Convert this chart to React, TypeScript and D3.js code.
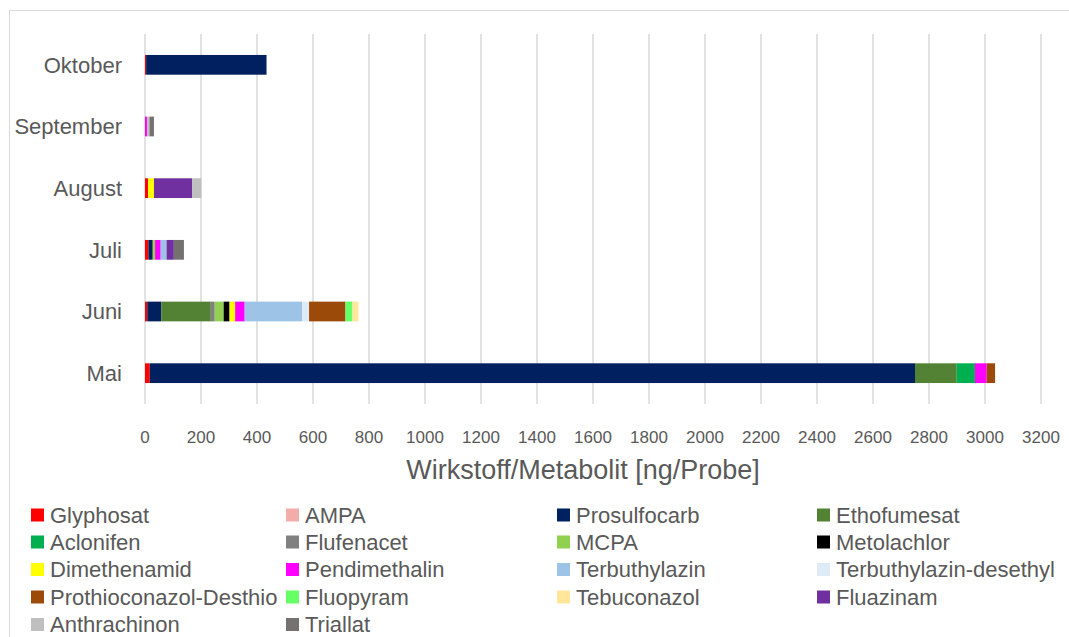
import React from "react";
import * as d3 from "d3";

const months = ["Oktober", "September", "August", "Juli", "Juni", "Mai"];
// values per month in order: Oktober, September, August, Juli, Juni, Mai
const seriesNames = [
  "Glyphosat", "AMPA", "Prosulfocarb", "Ethofumesat", "Aclonifen", "Flufenacet",
  "MCPA", "Metolachlor", "Dimethenamid", "Pendimethalin", "Terbuthylazin",
  "Terbuthylazin-desethyl", "Prothioconazol-Desthio", "Fluopyram", "Tebuconazol",
  "Fluazinam", "Anthrachinon", "Triallat",
];
const seriesColors = [
  "#FF0000", "#F2ACAA", "#002060", "#548235", "#00B050", "#808080",
  "#92D050", "#000000", "#FFFF00", "#FF00FF", "#9DC3E6",
  "#DEEBF7", "#9C4A0A", "#66FF66", "#FFE699",
  "#7030A0", "#BFBFBF", "#767171",
];
const glyphosat = [4, 0, 11, 12, 8, 17];
const ampa = [0, 0, 0, 0, 0, 0];
const prosulfocarb = [430, 0, 0, 13, 50, 2733];
const ethofumesat = [0, 0, 0, 5, 177, 149];
const aclonifen = [0, 0, 0, 0, 0, 65];
const flufenacet = [0, 0, 0, 0, 14, 0];
const mcpa = [0, 0, 0, 6, 32, 0];
const metolachlor = [0, 0, 0, 0, 21, 0];
const dimethenamid = [0, 0, 21, 0, 20, 0];
const pendimethalin = [0, 7, 0, 20, 34, 42];
const terbuthylazin = [0, 0, 0, 21, 206, 0];
const terbuthylazinDesethyl = [0, 0, 0, 0, 24, 0];
const prothioconazol = [0, 0, 0, 0, 130, 30];
const fluopyram = [0, 0, 0, 0, 25, 0];
const tebuconazol = [0, 0, 0, 0, 21, 0];
const fluazinam = [0, 0, 136, 26, 0, 0];
const anthrachinon = [0, 9, 33, 0, 0, 0];
const triallat = [0, 16, 0, 36, 0, 0];
const xTicks = d3.range(0, 3201, 200);
const axisTitle = "Wirkstoff/Metabolit [ng/Probe]";

const seriesValues = [
  glyphosat, ampa, prosulfocarb, ethofumesat, aclonifen, flufenacet, mcpa,
  metolachlor, dimethenamid, pendimethalin, terbuthylazin, terbuthylazinDesethyl,
  prothioconazol, fluopyram, tebuconazol, fluazinam, anthrachinon, triallat,
];

export default function App() {
  const W = 1069, H = 637;
  const left = 145, right = 1041, top = 34, bottom = 404;
  const x = d3.scaleLinear().domain([0, 3200]).range([left, right]);
  const y = d3.scaleBand().domain(months).range([top, bottom]).paddingInner(0.68).paddingOuter(0.34);

  const rows = months.map((m, i) => {
    const r: any = { month: m };
    seriesNames.forEach((s, j) => (r[s] = seriesValues[j][i]));
    return r;
  });
  const stacked = d3.stack().keys(seriesNames)(rows);
  const font = "'Liberation Sans', Arial, sans-serif";
  const txt = "#595959";

  const legendCols = [31, 286, 557, 817];
  const legendRows = [515, 542, 569.5, 597, 624.5];

  return (
    <svg width={W} height={H} style={{ position: "absolute", left: 0, top: 0, background: "#fff" }} fontFamily={font}>
      <rect x={9.5} y={10.5} width={1070} height={640} fill="#fff" stroke="#d9d9d9" strokeWidth={1} />
      {xTicks.map((t) => (
        <line key={t} x1={x(t)} x2={x(t)} y1={top} y2={bottom} stroke="#d9d9d9" strokeWidth={1.5} />
      ))}
      {stacked.map((layer, j) => (
        <g key={seriesNames[j]} fill={seriesColors[j]}>
          {layer.map((d, i) =>
            d[1] - d[0] > 0 ? (
              <rect key={i} x={x(d[0])} y={y(months[i])} width={x(d[1]) - x(d[0])} height={y.bandwidth()} />
            ) : null
          )}
        </g>
      ))}
      {xTicks.map((t) => (
        <text key={t} x={x(t)} y={443} textAnchor="middle" fontSize={17} fill={txt}>{t}</text>
      ))}
      {months.map((m) => (
        <text key={m} x={122} y={(y(m) as number) + y.bandwidth() / 2} dy="0.35em" textAnchor="end" fontSize={22} fill={txt}>{m}</text>
      ))}
      <text x={583} y={479} textAnchor="middle" fontSize={27} fill={txt}>{axisTitle}</text>
      {seriesNames.map((s, k) => {
        const cx = legendCols[k % 4];
        const cy = legendRows[Math.floor(k / 4)];
        return (
          <g key={s}>
            <rect x={cx} y={cy - 6.5} width={13} height={13} fill={seriesColors[k]} />
            <text x={cx + 19} y={cy} dy="0.35em" fontSize={22} fill={txt}>{s}</text>
          </g>
        );
      })}
    </svg>
  );
}
